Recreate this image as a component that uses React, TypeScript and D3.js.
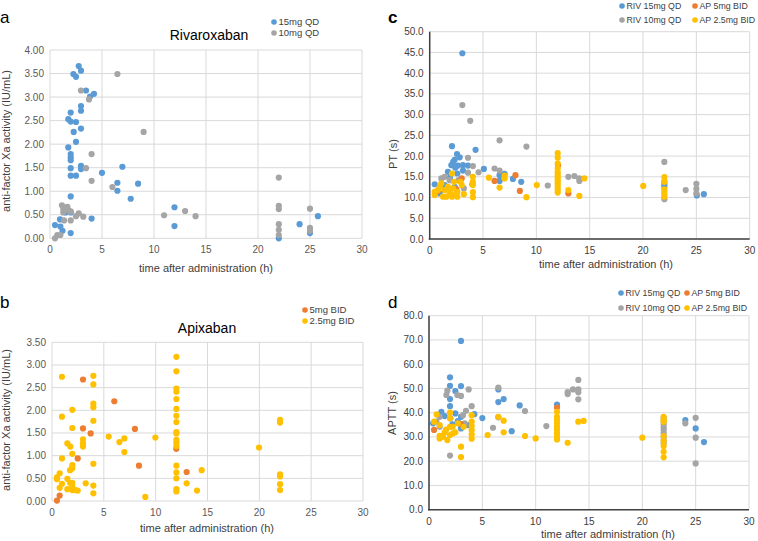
import React from "react";
import * as d3 from "d3";

type Pt = [number, number];

const BLUE = "#5B9BD5";
const GRAY = "#A5A5A5";
const ORANGE = "#ED7D31";
const YELLOW = "#FFC000";

const xTicks = [0, 5, 10, 15, 20, 25, 30];
const yTicksA = [0, 0.5, 1, 1.5, 2, 2.5, 3, 3.5, 4];
const yTicksB = [0, 0.5, 1, 1.5, 2, 2.5, 3, 3.5];
const yTicksC = [0, 5, 10, 15, 20, 25, 30, 35, 40, 45, 50];
const yTicksD = [0, 10, 20, 30, 40, 50, 60, 70, 80];

// Panel a: Rivaroxaban anti-Xa
const rivXa15: Pt[] = [
  [2.76, 3.66], [2.98, 3.56], [2.25, 3.49], [2.5, 3.43], [3.46, 3.14], [3.85, 3.01], [4.23, 3.07],
  [2.98, 2.81], [2.98, 2.71], [1.99, 2.67], [1.76, 2.53], [1.99, 2.48], [2.5, 2.47], [2.98, 2.33],
  [2.28, 2.26], [2.5, 2.05], [1.76, 1.93], [1.99, 1.79], [1.99, 1.72], [1.99, 1.66], [1.99, 1.49],
  [2.98, 1.54], [2.98, 1.47], [1.99, 1.33], [2.5, 1.33], [5.0, 1.39], [6.96, 1.52], [6.48, 1.18],
  [6.48, 1.01], [8.47, 1.16], [7.76, 0.84], [1.99, 0.89], [11.97, 0.66], [11.97, 0.26], [4.0, 0.42],
  [0.48, 0.28], [0.96, 0.4], [1.0, 0.25], [1.2, 0.16], [1.99, 0.11], [1.5, 0.55], [2.0, 0.55],
  [22, 0.0], [24, 0.3], [25.76, 0.47], [25, 0.11],
];
const rivXa10: Pt[] = [
  [6.48, 3.49], [2.98, 3.14], [3.75, 2.95], [9.0, 2.26], [4.0, 1.79], [3.46, 1.49], [4.0, 1.22],
  [6.0, 1.09], [22, 1.29], [10.97, 0.49], [12.99, 0.58], [14.0, 0.47], [22, 0.69], [22, 0.62],
  [22, 0.3], [22, 0.18], [22, 0.07], [25, 0.63], [25, 0.22], [25, 0.16], [1.15, 0.7], [1.28, 0.62],
  [1.67, 0.67], [1.76, 0.6], [1.99, 0.57], [2.76, 0.53], [2.5, 0.47], [3.2, 0.46], [1.35, 0.38],
  [1.99, 0.38], [0.48, 0.0], [0.7, 0.07], [1.0, 0.07], [1.28, 0.55], [1.5, 0.62],
];

// Panel b: Apixaban anti-Xa
const apXa5: Pt[] = [
  [2.99, 2.68], [6.01, 2.2], [2.99, 1.6], [3.73, 1.49], [8.0, 1.59], [2.48, 0.94], [8.39, 0.78],
  [11.99, 1.15], [12.99, 0.64], [0.74, 0.12], [0.48, 0.01],
];
const apXa25: Pt[] = [
  [0.96, 2.74], [3.99, 2.76], [3.99, 2.57], [0.96, 1.86], [1.96, 2.01], [3.99, 2.15], [3.99, 2.07],
  [3.99, 1.77], [1.96, 1.61], [2.99, 1.36], [2.99, 1.27], [2.99, 1.2], [1.48, 1.27], [1.77, 1.2],
  [1.96, 1.04], [0.96, 0.94], [1.96, 0.79], [1.96, 0.72], [1.74, 0.68], [3.99, 0.82], [0.74, 0.61],
  [0.48, 0.52], [0.48, 0.48], [1.48, 0.49], [0.96, 0.38], [1.74, 0.4], [1.96, 0.4], [3.25, 0.39],
  [3.99, 0.34], [0.74, 0.29], [1.48, 0.26], [1.96, 0.24], [2.25, 0.24], [2.48, 0.23], [3.99, 0.17],
  [1.96, 0.32], [5.47, 1.42], [6.5, 1.3], [6.98, 1.38], [6.98, 1.08], [9.97, 1.4], [9.0, 0.09],
  [12, 3.18], [12, 2.86], [12, 2.48], [12, 2.41], [12, 2.25], [12, 2.03], [12, 1.88], [12, 1.74],
  [12, 1.52], [12, 1.49], [12, 1.35], [12, 1.29], [12, 1.21], [12, 0.78], [12, 0.63], [12, 0.5],
  [12, 0.26], [12, 0.21], [12.99, 0.39], [13.99, 0.23], [14.44, 0.68], [19.97, 1.18],
  [22, 1.79], [22, 1.73], [22, 0.59], [22, 0.54], [22, 0.37], [22, 0.24],
];

// Panel c: PT
const ptRiv15: Pt[] = [
  [3.06, 44.8], [2.09, 22.4], [4.3, 21.5], [2.56, 20.5], [2.81, 19.7], [2.34, 19.1], [2.03, 17.8],
  [2.65, 17.7], [3.12, 17.8], [3.59, 17.7], [5.08, 16.9], [3.12, 16.5], [1.71, 16.2], [2.59, 15.8],
  [6.55, 15.4], [7.02, 15.7], [7.8, 14.5], [8.58, 13.8], [6.55, 14.0], [0.47, 13.2], [1.4, 13.0],
  [2.34, 12.6], [0.94, 11.0], [2.2, 18.6], [2.4, 17.2], [1.9, 14.8], [22, 12.6], [22, 13.2],
  [25.04, 10.5], [25.7, 10.8],
];
const ptRiv10: Pt[] = [
  [3.06, 32.3], [3.8, 28.5], [6.55, 23.8], [9.07, 22.3], [3.59, 19.6], [4.05, 17.6], [3.59, 16.0],
  [4.58, 16.1], [6.08, 17.0], [6.55, 16.5], [11.07, 12.9], [13.0, 15.0], [13.56, 15.2], [14.03, 14.6],
  [14.03, 14.0], [22, 18.6], [22, 13.8], [22, 9.6], [24.0, 11.8], [25.0, 13.3], [25.0, 12.1],
  [25.0, 11.0], [1.09, 14.6], [1.4, 15.0], [1.87, 14.2], [3.2, 12.2], [2.7, 14.2],
];
const ptAp5: Pt[] = [
  [8.04, 15.4], [6.08, 14.0], [8.45, 11.6], [13.0, 11.0], [12.03, 17.8], [3.0, 14.6], [4.0, 13.2],
  [2.5, 12.0], [0.5, 11.0], [0.75, 11.5],
];
const ptAp25: Pt[] = [
  [2.09, 15.8], [4.05, 15.0], [4.05, 13.8], [4.05, 13.0], [4.05, 11.3], [4.05, 10.1], [5.55, 14.8],
  [6.55, 12.4], [7.02, 15.3], [7.02, 14.6], [9.07, 10.1], [10.04, 13.0],
  [12, 20.7], [12, 19.6], [12, 18.2], [12, 17.0], [12, 16.1], [12, 15.4], [12, 14.8], [12, 14.2],
  [12, 13.6], [12, 13.0], [12, 12.4], [12, 11.8], [12, 11.2], [13.0, 11.8], [14.03, 10.4],
  [14.5, 14.6], [20.02, 12.8], [22, 14.9], [22, 13.8], [22, 12.0], [22, 11.4], [22, 10.8], [22, 10.2],
  [0.47, 11.4], [0.47, 10.6], [0.94, 12.6], [1.09, 13.4], [1.4, 11.8], [1.56, 10.2], [1.87, 11.4],
  [2.09, 10.2], [2.34, 10.6], [2.59, 11.4], [2.9, 13.8], [3.0, 13.0], [3.2, 10.8], [2.28, 13.8],
  [1.71, 12.6], [1.25, 10.2], [2.59, 10.2], [0.78, 11.8], [1.9, 11.0], [2.2, 12.2],
];

// Panel d: APTT
const apttRiv15: Pt[] = [
  [3.0, 69.6], [1.97, 54.6], [1.97, 51.1], [3.0, 51.0], [2.47, 48.9], [1.97, 45.6], [1.97, 42.7],
  [6.5, 49.6], [6.5, 44.4], [7.0, 45.6], [8.5, 43.0], [5.0, 37.8], [4.25, 39.4], [7.75, 32.4],
  [12.0, 43.3], [24.03, 37.0], [25, 33.5], [25.78, 27.9], [2.0, 37.7], [2.47, 39.7], [3.0, 38.3],
  [3.0, 33.5], [1.16, 40.4], [1.47, 38.6], [3.66, 34.9], [0.38, 35.6], [2.7, 36.5], [2.2, 35.2],
];
const apttRiv10: Pt[] = [
  [1.72, 49.1], [1.63, 47.3], [2.66, 47.3], [3.0, 46.9], [3.72, 49.6], [4.0, 42.7], [3.47, 40.8],
  [6.5, 50.4], [9.0, 40.7], [6.0, 33.8], [11.0, 34.5], [13.0, 47.7], [13.0, 48.5], [13.5, 49.6],
  [14.0, 53.5], [14.0, 49.6], [14.0, 48.4], [14.0, 45.5], [1.97, 22.3], [6.5, 38.1],
  [22, 37.7], [22, 36.3], [22, 35.2], [22, 34.0], [22, 32.9], [22, 31.5], [22, 30.1], [22, 28.7],
  [22, 27.4], [24.03, 35.6], [25, 37.9], [25, 29.7], [25, 19.1], [1.0, 38.3], [0.69, 36.3],
  [1.0, 34.2], [3.19, 39.0], [3.34, 35.6],
];
const apttAp5: Pt[] = [[0.47, 32.9], [12.0, 42.1], [3.0, 35.3]];
const apttAp25: Pt[] = [
  [0.72, 39.3], [0.47, 36.3], [1.0, 34.9], [1.0, 30.5], [1.0, 29.4], [1.47, 31.9], [1.72, 28.7],
  [1.97, 40.0], [1.97, 37.7], [1.97, 34.2], [1.97, 30.8], [2.22, 34.2], [2.47, 31.9], [3.0, 26.0],
  [3.0, 21.7], [3.25, 34.2], [4.0, 39.0], [4.0, 36.3], [4.0, 34.6], [4.0, 32.9], [4.0, 31.1],
  [4.0, 29.3], [5.5, 30.8], [6.5, 38.3], [7.0, 31.9], [7.0, 36.7], [9.0, 30.4], [10.0, 29.4],
  [13.0, 27.6], [14.0, 36.3], [14.5, 36.6], [20, 29.7],
  [12, 40.4], [12, 38.3], [12, 37.0], [12, 35.6], [12, 34.2], [12, 32.9], [12, 31.5], [12, 30.1], [12, 29.0],
  [22, 38.3], [22, 37.1], [22, 36.3], [22, 30.4], [22, 28.3], [22, 26.3], [22, 23.9], [22, 21.6],
  [1.31, 30.1], [2.25, 31.5], [2.72, 35.6], [1.6, 33.0],
];

const FONT = "'Liberation Sans', Arial, sans-serif";

interface Series { name: string; color: string; data: Pt[] }
interface LegendItem { name: string; color: string; x: number; y: number }

interface PanelProps {
  box: { x0: number; x1: number; y0: number; y1: number };
  yMax: number;
  yTicks: number[];
  yFmt: (v: number) => string;
  series: Series[];
  legend: LegendItem[];
  legendSize: number;
  letter: { t: string; x: number; y: number; bold?: boolean };
  title?: { t: string; x: number; y: number };
  xTitle: { x: number; y: number };
  yTitle: { t: string; x: number; y: number };
  darkAxes?: boolean;
  tickColor: string;
}

function Panel(p: PanelProps) {
  const x = d3.scaleLinear().domain([0, 30]).range([p.box.x0, p.box.x1]);
  const y = d3.scaleLinear().domain([0, p.yMax]).range([p.box.y1, p.box.y0]);
  const grid = "#D9D9D9";
  return (
    <g>
      {xTicks.map((t) => (
        <line key={"gx" + t} x1={x(t)} x2={x(t)} y1={y(0)} y2={y(p.yMax)} stroke={grid} strokeWidth={1} />
      ))}
      {p.yTicks.map((t) => (
        <line key={"gy" + t} x1={x(0)} x2={x(30)} y1={y(t)} y2={y(t)} stroke={grid} strokeWidth={1} />
      ))}
      {p.darkAxes && (
        <g>
          <line x1={x(0)} x2={x(0)} y1={y(0) + 0.5} y2={y(p.yMax)} stroke="#404040" strokeWidth={1.5} />
          <line x1={x(0) - 1} x2={x(30)} y1={y(0)} y2={y(0)} stroke="#404040" strokeWidth={1.5} />
        </g>
      )}
      {p.yTicks.map((t) => (
        <text key={"ly" + t} x={x(0) - 6} y={y(t) + 3.5} textAnchor="end" fontSize={10} fill={p.tickColor} fontFamily={FONT}>
          {p.yFmt(t)}
        </text>
      ))}
      {xTicks.map((t) => (
        <text key={"lx" + t} x={x(t)} y={y(0) + 15} textAnchor="middle" fontSize={10} fill={p.tickColor} fontFamily={FONT}>
          {t}
        </text>
      ))}
      {p.series.map((s) => (
        <g key={s.name}>
          {s.data.map((d, i) => (
            <circle key={i} cx={x(d[0])} cy={y(d[1])} r={3.1} fill={s.color} />
          ))}
        </g>
      ))}
      {p.legend.map((l) => (
        <g key={"lg" + l.name}>
          <circle cx={l.x} cy={l.y} r={2.8} fill={l.color} />
          <text x={l.x + 4.5} y={l.y + 3.3} fontSize={p.legendSize} fill="#404040" fontFamily={FONT}>{l.name}</text>
        </g>
      ))}
      <text x={p.letter.x} y={p.letter.y} fontSize={17} fontWeight={p.letter.bold ? "bold" : "normal"} fill="#000" fontFamily={FONT}>
        {p.letter.t}
      </text>
      {p.title && (
        <text x={p.title.x} y={p.title.y} textAnchor="middle" fontSize={14} fill="#000" fontFamily={FONT}>
          {p.title.t}
        </text>
      )}
      <text x={p.xTitle.x} y={p.xTitle.y} textAnchor="middle" fontSize={11} fill="#404040" fontFamily={FONT}>
        time after administration (h)
      </text>
      <text
        transform={`translate(${p.yTitle.x},${p.yTitle.y}) rotate(-90)`}
        textAnchor="middle"
        fontSize={11}
        fill="#404040"
        fontFamily={FONT}
      >
        {p.yTitle.t}
      </text>
    </g>
  );
}

const f2 = d3.format(".2f");
const f1 = d3.format(".1f");

export default function App() {
  return (
    <svg width={758} height={541} style={{ position: "absolute", left: 0, top: 0, background: "#fff" }}>
      <rect width={758} height={541} fill="#fff" />
      <Panel
        box={{ x0: 50, x1: 362, y0: 50, y1: 238.3 }}
        yMax={4}
        yTicks={yTicksA}
        yFmt={f2}
        series={[
          { name: "15mg QD", color: BLUE, data: rivXa15 },
          { name: "10mg QD", color: GRAY, data: rivXa10 },
        ]}
        legend={[
          { name: "15mg QD", color: BLUE, x: 274, y: 22 },
          { name: "10mg QD", color: GRAY, x: 274, y: 33 },
        ]}
        legendSize={9.5}
        letter={{ t: "a", x: 0, y: 23 }}
        title={{ t: "Rivaroxaban", x: 209, y: 40 }}
        xTitle={{ x: 206, y: 272 }}
        yTitle={{ t: "anti-factor Xa activity (IU/mL)", x: 10, y: 141 }}
        tickColor="#595959"
      />
      <Panel
        box={{ x0: 52, x1: 363, y0: 342.3, y1: 501 }}
        yMax={3.5}
        yTicks={yTicksB}
        yFmt={f2}
        series={[
          { name: "5mg BID", color: ORANGE, data: apXa5 },
          { name: "2.5mg BID", color: YELLOW, data: apXa25 },
        ]}
        legend={[
          { name: "5mg BID", color: ORANGE, x: 305, y: 310 },
          { name: "2.5mg BID", color: YELLOW, x: 305, y: 321 },
        ]}
        legendSize={9.5}
        letter={{ t: "b", x: 0, y: 308 }}
        title={{ t: "Apixaban", x: 207, y: 333 }}
        xTitle={{ x: 207, y: 532 }}
        yTitle={{ t: "anti-factor Xa activity (IU/mL)", x: 10, y: 420 }}
        tickColor="#595959"
      />
      <Panel
        box={{ x0: 429.7, x1: 749.7, y0: 31.7, y1: 239 }}
        yMax={50}
        yTicks={yTicksC}
        yFmt={f1}
        series={[
          { name: "RIV 15mg QD", color: BLUE, data: ptRiv15 },
          { name: "RIV 10mg QD", color: GRAY, data: ptRiv10 },
          { name: "AP 5mg BID", color: ORANGE, data: ptAp5 },
          { name: "AP 2.5mg BID", color: YELLOW, data: ptAp25 },
        ]}
        legend={[
          { name: "RIV 15mg QD", color: BLUE, x: 622, y: 6 },
          { name: "AP 5mg BID", color: ORANGE, x: 695, y: 6 },
          { name: "RIV 10mg QD", color: GRAY, x: 622, y: 20 },
          { name: "AP 2.5mg BID", color: YELLOW, x: 695, y: 20 },
        ]}
        legendSize={8.8}
        letter={{ t: "c", x: 388, y: 23, bold: true }}
        xTitle={{ x: 606, y: 268 }}
        yTitle={{ t: "PT (s)", x: 397, y: 154 }}
        darkAxes
        tickColor="#404040"
      />
      <Panel
        box={{ x0: 429, x1: 749, y0: 315.7, y1: 509.7 }}
        yMax={80}
        yTicks={yTicksD}
        yFmt={f1}
        series={[
          { name: "RIV 15mg QD", color: BLUE, data: apttRiv15 },
          { name: "RIV 10mg QD", color: GRAY, data: apttRiv10 },
          { name: "AP 5mg BID", color: ORANGE, data: apttAp5 },
          { name: "AP 2.5mg BID", color: YELLOW, data: apttAp25 },
        ]}
        legend={[
          { name: "RIV 15mg QD", color: BLUE, x: 621, y: 293 },
          { name: "AP 5mg BID", color: ORANGE, x: 687, y: 293 },
          { name: "RIV 10mg QD", color: GRAY, x: 621, y: 308 },
          { name: "AP 2.5mg BID", color: YELLOW, x: 687, y: 308 },
        ]}
        legendSize={8.8}
        letter={{ t: "d", x: 388, y: 308 }}
        xTitle={{ x: 608, y: 538 }}
        yTitle={{ t: "APTT (s)", x: 396, y: 413 }}
        darkAxes
        tickColor="#404040"
      />
    </svg>
  );
}
